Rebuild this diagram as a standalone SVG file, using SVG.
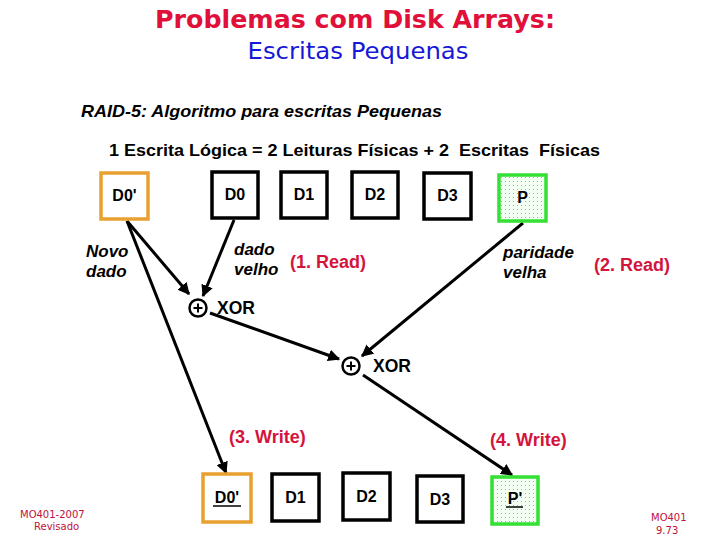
<svg xmlns="http://www.w3.org/2000/svg" width="720" height="540" viewBox="0 0 720 540">
<style>
.box{fill:#fff;stroke:#000;stroke-width:3.5}
.new{fill:#fff;stroke:#E8A030;stroke-width:3.5}
.par{fill:url(#dots);stroke:#33E033;stroke-width:3.5}
.lbl{font-family:"Liberation Sans",Arial,sans-serif;font-weight:bold;font-size:16px;fill:#000;text-anchor:middle}
.x{font-family:"Liberation Sans",Arial,sans-serif;font-weight:bold;font-size:17.5px;fill:#000}
.it{font-family:"Liberation Sans",Arial,sans-serif;font-weight:bold;font-style:italic;font-size:17px;fill:#000}
.red{font-family:"Liberation Sans",Arial,sans-serif;font-weight:bold;font-size:18px;fill:#D4143C}
.conn line{stroke:#000;stroke-width:3;marker-end:url(#arr)}
.xor circle{fill:#fff;stroke:#000;stroke-width:2.5}
.xor path{stroke:#000;stroke-width:2;fill:none}
.foot{font-family:"DejaVu Sans",sans-serif;font-size:10px;fill:#C0103A}
</style>
<defs>
<pattern id="dots" width="4" height="4" patternUnits="userSpaceOnUse">
<rect width="4" height="4" fill="#F4FFF4"/>
<rect x="1" y="1" width="1" height="1" fill="#90C090"/>
</pattern>
<marker id="arr" viewBox="0 0 10 10" refX="9" refY="5" markerWidth="4" markerHeight="4" orient="auto" markerUnits="strokeWidth">
<path d="M0,0 L10,5 L0,10 z" fill="#000"/>
</marker>
</defs>

<text x="355" y="28" font-family="DejaVu Sans,sans-serif" font-weight="bold" font-size="25" fill="#E0103A" text-anchor="middle" textLength="400" lengthAdjust="spacingAndGlyphs">Problemas com Disk Arrays:</text>
<text x="358" y="59" font-family="DejaVu Sans,sans-serif" font-size="23" fill="#1818D8" text-anchor="middle" textLength="221" lengthAdjust="spacingAndGlyphs">Escritas Pequenas</text>

<text x="81" y="117" class="it" textLength="361" lengthAdjust="spacingAndGlyphs">RAID-5: Algoritmo para escritas Pequenas</text>
<text x="109" y="156" font-family="Liberation Sans,Arial,sans-serif" font-weight="bold" font-size="17" textLength="491" lengthAdjust="spacingAndGlyphs" xml:space="preserve">1 Escrita Lógica = 2 Leituras Físicas + 2  Escritas  Físicas</text>

<g class="conn">
<line x1="127" y1="221" x2="189" y2="294"/>
<line x1="127" y1="221" x2="226" y2="473"/>
<line x1="234" y1="220" x2="203" y2="296"/>
<line x1="210" y1="313" x2="339" y2="359"/>
<line x1="523" y1="223" x2="362" y2="356"/>
<line x1="363" y1="375" x2="512" y2="475"/>
</g>

<g id="d0new"><rect class="new" x="101" y="173" width="47" height="46"/><text class="lbl" x="124.5" y="201">D0'</text></g>
<g id="d0"><rect class="box" x="212" y="172" width="46" height="46"/><text class="lbl" x="235" y="200">D0</text></g>
<g id="d1"><rect class="box" x="281" y="172" width="46" height="46"/><text class="lbl" x="304" y="200">D1</text></g>
<g id="d2"><rect class="box" x="352" y="172" width="46" height="46"/><text class="lbl" x="375" y="200">D2</text></g>
<g id="d3"><rect class="box" x="424" y="173" width="47" height="46"/><text class="lbl" x="447.5" y="201">D3</text></g>
<g id="p"><rect class="par" x="499" y="175" width="47" height="46"/><text class="lbl" x="522.5" y="203">P</text></g>

<g id="xor1" class="xor"><circle cx="198" cy="308" r="8.5"/><path d="M198,303.5 V312.5 M193.5,308 H202.5"/></g>
<text class="x" x="217" y="314">XOR</text>
<g id="xor2" class="xor"><circle cx="351" cy="366" r="8.5"/><path d="M351,361.5 V370.5 M346.5,366 H355.5"/></g>
<text class="x" x="373" y="372">XOR</text>

<text class="it" x="86" y="257">Novo<tspan x="86" dy="20">dado</tspan></text>
<text class="it" x="234" y="255">dado<tspan x="234" dy="20">velho</tspan></text>
<text class="red" x="290" y="268">(1. Read)</text>
<text class="it" x="503" y="258">paridade<tspan x="503" dy="20">velha</tspan></text>
<text class="red" x="594" y="271">(2. Read)</text>
<text class="red" x="229" y="443">(3. Write)</text>
<text class="red" x="490" y="446">(4. Write)</text>

<g id="d0new_b"><rect class="new" x="203" y="474" width="48" height="48"/><text class="lbl" x="227" y="503">D0'</text><line x1="213" y1="506" x2="241" y2="506" stroke="#000" stroke-width="1.5"/></g>
<g id="d1_b"><rect class="box" x="272" y="474" width="47" height="47"/><text class="lbl" x="295.5" y="503">D1</text></g>
<g id="d2_b"><rect class="box" x="343" y="473" width="47" height="47"/><text class="lbl" x="366.5" y="502">D2</text></g>
<g id="d3_b"><rect class="box" x="417" y="476" width="46" height="46"/><text class="lbl" x="440" y="505">D3</text></g>
<g id="p_b"><rect class="par" x="492" y="477" width="46" height="47"/><text class="lbl" x="515" y="504">P'</text><line x1="506" y1="507" x2="523" y2="507" stroke="#000" stroke-width="1.5"/></g>

<text class="foot" x="20" y="518">MO401-2007</text>
<text class="foot" x="34" y="530">Revisado</text>
<text class="foot" x="651" y="521">MO401</text>
<text class="foot" x="656" y="534">9.73</text>
</svg>
